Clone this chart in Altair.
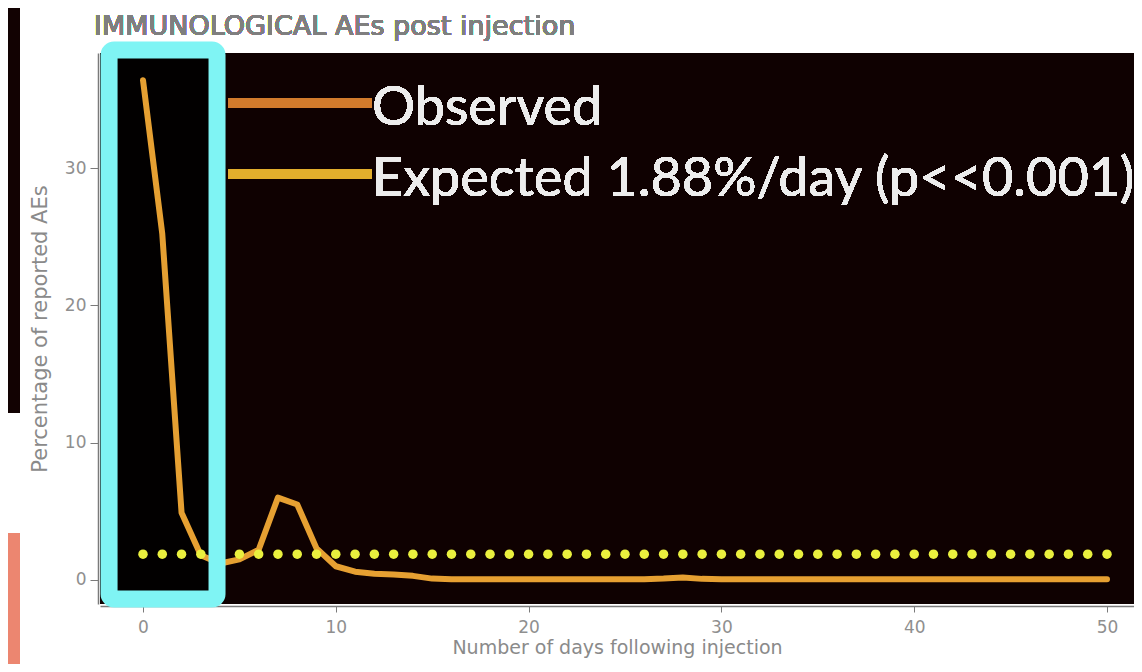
import altair as alt
import pandas as pd

# ---- data ----
days = list(range(51))
observed = [36.4, 25.2, 4.9, 1.8, 1.2, 1.5, 2.2, 6.0, 5.5, 2.3,
            1.0, 0.6, 0.45, 0.4, 0.3, 0.1, 0.06, 0.06, 0.06, 0.06,
            0.06, 0.06, 0.06, 0.06, 0.06, 0.06, 0.06, 0.1, 0.18, 0.08,
            0.06, 0.06, 0.06, 0.06, 0.06, 0.06, 0.06, 0.06, 0.06, 0.06,
            0.06, 0.06, 0.06, 0.06, 0.06, 0.06, 0.06, 0.06, 0.06, 0.06,
            0.05]
expected_rate = 1.88
x_ticks = [0, 10, 20, 30, 40, 50]
y_ticks = [0, 10, 20, 30]
highlight_days = [-1.76, 3.84]
highlight_pct = [-1.38, 38.6]
legend_labels = ["Observed", "Expected 1.88%/day (p<<0.001)"]
legend_colors = ["#d27b2c", "#e2ae2c"]
title_text = "IMMUNOLOGICAL AEs post injection"
x_title = "Number of days following injection"
y_title = "Percentage of reported AEs"

df = pd.DataFrame({"day": days, "observed": observed,
                   "expected": [expected_rate] * len(days)})
box = pd.DataFrame({"x0": [highlight_days[0]], "x1": [highlight_days[1]],
                    "y0": [highlight_pct[0]], "y1": [highlight_pct[1]]})

xs = alt.Scale(domain=[-2.23, 51.4], nice=False, zero=False)
ys = alt.Scale(domain=[-1.75, 38.38], nice=False, zero=False)

x_axis = alt.Axis(values=x_ticks, title=x_title, labelFontSize=17, titleFontSize=19,
                  tickSize=6, labelPadding=7, titlePadding=3, offset=2, labelFlush=False)
y_axis = alt.Axis(values=y_ticks, title=y_title, labelFontSize=17, titleFontSize=21,
                  tickSize=8, labelPadding=4, titlePadding=14, offset=2)

base = alt.Chart(df)

line = base.mark_line(color="#e6a032", strokeWidth=6, strokeJoin="round",
                      strokeCap="round").encode(
    x=alt.X("day:Q", scale=xs, axis=x_axis),
    y=alt.Y("observed:Q", scale=ys, axis=y_axis),
)
dots = base.mark_circle(color="#eaf03e", size=90, opacity=1).encode(
    x=alt.X("day:Q", scale=xs),
    y=alt.Y("expected:Q", scale=ys),
)

box_fill = alt.Chart(box).mark_rect(fill="#020000").encode(
    x=alt.X("x0:Q", scale=xs), x2="x1:Q",
    y=alt.Y("y0:Q", scale=ys), y2="y1:Q",
)
box_edge = alt.Chart(box).mark_rect(fillOpacity=0, stroke="#7ff4f4", strokeWidth=17,
                                    cornerRadius=5, clip=False).encode(
    x=alt.X("x0:Q", scale=xs), x2="x1:Q",
    y=alt.Y("y0:Q", scale=ys), y2="y1:Q",
)

legend_layers = []
for i, (lab, col) in enumerate(zip(legend_labels, legend_colors)):
    ly = 50 + 71 * i
    legend_layers.append(
        alt.Chart(df).mark_rule(color=col, strokeWidth=10).encode(
            x=alt.value(128), x2=alt.value(272), y=alt.value(ly))
    )
    legend_layers.append(
        alt.Chart(df).mark_text(text=lab, align="left", baseline="alphabetic",
                                font="Lato", fontSize=54, color="#ededed").encode(
            x=alt.value(272), y=alt.value(ly + 22))
    )

title_mark = alt.Chart(df).mark_text(
    text=title_text, align="left", baseline="alphabetic", font="DejaVu Sans",
    fontSize=27, color="#7f7f7f").encode(x=alt.value(-6), y=alt.value(-18))

# residue of the neighbouring slide at the far left of the screenshot
left_dark = alt.Chart(df).mark_rect(color="#120202").encode(
    x=alt.value(-92), x2=alt.value(-80), y=alt.value(-45), y2=alt.value(360))
left_salmon = alt.Chart(df).mark_rect(color="#ec8670").encode(
    x=alt.value(-92), x2=alt.value(-80), y=alt.value(480), y2=alt.value(620))

chart = alt.layer(
    left_dark, left_salmon, box_fill, line, dots, box_edge, *legend_layers, title_mark
).properties(
    width=1034, height=551,
    padding={"left": 92, "top": 45, "right": 0, "bottom": 60},
    autosize=alt.AutoSizeParams(type="none"),
).configure(
    background="white"
).configure_view(
    fill="#0f0101", stroke=None
).configure_axis(
    grid=False, domainColor="#7a7a7a", tickColor="#7a7a7a", domainWidth=1.5,
    labelColor="#8f8f8f", titleColor="#8a8a8a", labelFont="DejaVu Sans",
    titleFont="DejaVu Sans", titleFontWeight="normal"
)

chart.save("out.html", embed_options={"renderer": "svg", "actions": False})
